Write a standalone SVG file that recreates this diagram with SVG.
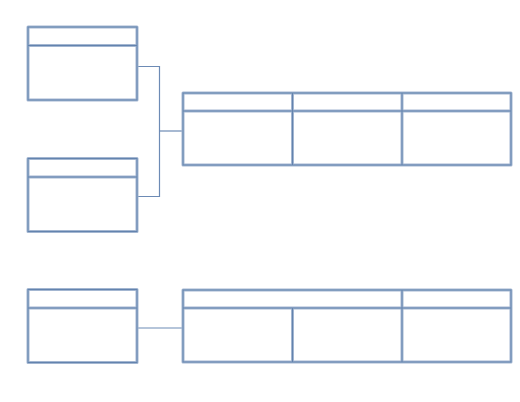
<svg xmlns="http://www.w3.org/2000/svg" width="520" height="402" viewBox="0 0 520 402">
<style>
.o{fill:none;stroke:#a3b6d1;stroke-width:3;stroke-linejoin:round}
.i{fill:none;stroke:#6383ae;stroke-width:1}
.c{fill:none;stroke:#6d8bb5;stroke-width:1.2}
</style>
<defs>
<g id="b1">
<rect class="o" x="0" y="0" width="109" height="73"/>
<line class="o" x1="0" y1="18.5" x2="109" y2="18.5"/>
<rect class="i" x="0" y="0" width="109" height="73"/>
<line class="i" x1="0" y1="18.5" x2="109" y2="18.5"/>
</g>
</defs>
<rect width="520" height="402" fill="#fff"/>
<g id="connectors">
<polyline class="c" points="138,66.5 159.5,66.5 159.5,196.5 138,196.5"/>
<line class="c" x1="159.5" y1="131" x2="183" y2="131"/>
<line class="c" x1="138" y1="328" x2="183" y2="328"/>
</g>
<g id="node1"><use href="#b1" x="28" y="27"/></g>
<g id="node2"><use href="#b1" x="28" y="158.5"/></g>
<g id="node3"><use href="#b1" x="28" y="289.5"/></g>
<g id="table1">
<g class="o"><rect x="183" y="93" width="328" height="72"/><line x1="183" y1="111" x2="511" y2="111"/><line x1="292.5" y1="93" x2="292.5" y2="165"/><line x1="402" y1="93" x2="402" y2="165"/></g>
<g class="i"><rect x="183" y="93" width="328" height="72"/><line x1="183" y1="111" x2="511" y2="111"/><line x1="292.5" y1="93" x2="292.5" y2="165"/><line x1="402" y1="93" x2="402" y2="165"/></g>
</g>
<g id="table2">
<g class="o"><rect x="183" y="290" width="328" height="72"/><line x1="183" y1="308" x2="511" y2="308"/><line x1="292.5" y1="308" x2="292.5" y2="362"/><line x1="402" y1="290" x2="402" y2="362"/></g>
<g class="i"><rect x="183" y="290" width="328" height="72"/><line x1="183" y1="308" x2="511" y2="308"/><line x1="292.5" y1="308" x2="292.5" y2="362"/><line x1="402" y1="290" x2="402" y2="362"/></g>
</g>
</svg>
